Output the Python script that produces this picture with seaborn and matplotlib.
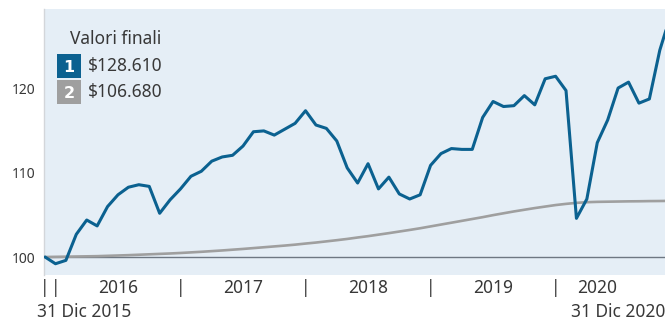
import numpy as np
import pandas as pd
import matplotlib
matplotlib.use("Agg")
import matplotlib.pyplot as plt
import seaborn as sns

# ---- data ----
months = list(range(61))  # month-end index, 0 = 31 Dic 2015, 60 = 31 Dic 2020
fund = [100.0, 99.2, 99.6, 102.7, 104.4, 103.7, 106.0, 107.4, 108.3, 108.6,
        108.4, 105.2, 106.8, 108.1, 109.6, 110.2, 111.4, 111.9, 112.1, 113.2,
        114.9, 115.0, 114.5, 115.2, 115.9, 117.4, 115.7, 115.3, 113.8, 110.6,
        108.8, 111.1, 108.1, 109.5, 107.5, 106.9, 107.4, 110.9, 112.3, 112.9,
        112.8, 112.8, 116.6, 118.5, 117.9, 118.0, 119.2, 118.1, 121.2, 121.5,
        119.8, 104.6, 106.9, 113.6, 116.3, 120.1, 120.8, 118.3, 118.8, 124.6,
        128.61]
bench = [100.00, 100.02, 100.04, 100.06, 100.08, 100.10, 100.14, 100.18, 100.22, 100.27,
         100.32, 100.37, 100.42, 100.48, 100.55, 100.62, 100.70, 100.78, 100.87, 100.96,
         101.06, 101.16, 101.26, 101.36, 101.47, 101.60, 101.72, 101.86, 102.00, 102.15,
         102.32, 102.48, 102.66, 102.84, 103.03, 103.22, 103.42, 103.64, 103.86, 104.08,
         104.30, 104.52, 104.74, 104.98, 105.20, 105.42, 105.62, 105.82, 106.00, 106.18,
         106.32, 106.44, 106.52, 106.56, 106.58, 106.60, 106.62, 106.63, 106.65, 106.66,
         106.68]
series_names = ["1", "2"]
final_labels = ["$128.610", "$106.680"]
legend_title = "Valori finali"
y_ticks = [100, 110, 120]
x_tick_pos = [0, 1, 7, 13, 19, 25, 31, 37, 43, 49, 53]
x_tick_labels = ["|", "|", "2016", "|", "2017", "|", "2018", "|", "2019", "|", "2020"]
start_label = "31 Dic 2015"
end_label = "31 Dic 2020"

df = pd.DataFrame({
    "month": months * 2,
    "value": fund + bench,
    "series": [series_names[0]] * len(fund) + [series_names[1]] * len(bench),
})

BLUE = "#0b6190"
GRAY = "#9f9f9f"
BG = "#e5eef6"
TXT = "#383838"

sns.set_theme(style="white")
plt.rcParams["font.family"] = ["Noto Sans", "DejaVu Sans"]

fig = plt.figure(figsize=(6.65, 3.2), dpi=100)
ax = fig.add_axes([44 / 665, 1 - 275 / 320, 1 - 44 / 665, (275 - 9) / 320])
ax.set_facecolor(BG)

ax.axhline(100, color="#6e7782", lw=1.0, zorder=1)
sns.lineplot(data=df, x="month", y="value", hue="series",
             palette={series_names[0]: BLUE, series_names[1]: GRAY},
             hue_order=[series_names[1], series_names[0]],
             linewidth=2.2, legend=False, ax=ax, zorder=3)
for ln in ax.lines:
    if matplotlib.colors.to_hex(ln.get_color()) == GRAY:
        ln.set_linewidth(1.9)

ax.set_xlim(-0.1, 59.5)
ax.set_ylim(97.86, 129.5)
ax.set_yticks(y_ticks)
ax.set_yticklabels([str(v) for v in y_ticks], color=TXT, fontsize=10)
ax.set_xticks(x_tick_pos)
ax.set_xticklabels(x_tick_labels, color=TXT, fontsize=12.5)
ax.tick_params(axis="both", length=0)
ax.tick_params(axis="y", pad=6)
ax.tick_params(axis="x", pad=3)
ax.set_xlabel("")
ax.set_ylabel("")

for s in ["top", "right", "bottom"]:
    ax.spines[s].set_visible(False)
ax.spines["left"].set_color("#d3d6da")
ax.spines["left"].set_linewidth(1.0)

# bottom date labels
fig.text(37 / 665, 1 - 312 / 320, start_label, ha="left", va="center",
         fontsize=12.5, color=TXT)
fig.text(1.0, 1 - 312 / 320, end_label, ha="right", va="center",
         fontsize=12.5, color=TXT)

# legend block
fig.text(70 / 665, 1 - 39 / 320, legend_title, ha="left", va="center",
         fontsize=12.5, color=TXT)
box_cols = [BLUE, GRAY]
box_y = [66, 92]
for name, lab, col, yc in zip(series_names, final_labels, box_cols, box_y):
    fig.patches.append(matplotlib.patches.Rectangle(
        (57 / 665, 1 - (yc + 12) / 320), 24 / 665, 24 / 320,
        transform=fig.transFigure, facecolor=col, edgecolor="none", zorder=5))
    fig.text(69 / 665, 1 - (yc + 1) / 320, name, ha="center", va="center",
             fontsize=11.5, fontweight="bold", family=["DejaVu Sans"],
             color="white", zorder=6)
    fig.text(88 / 665, 1 - yc / 320, lab, ha="left", va="center",
             fontsize=12.5, color=TXT)

fig.savefig("out.png", dpi=100, facecolor="white")
